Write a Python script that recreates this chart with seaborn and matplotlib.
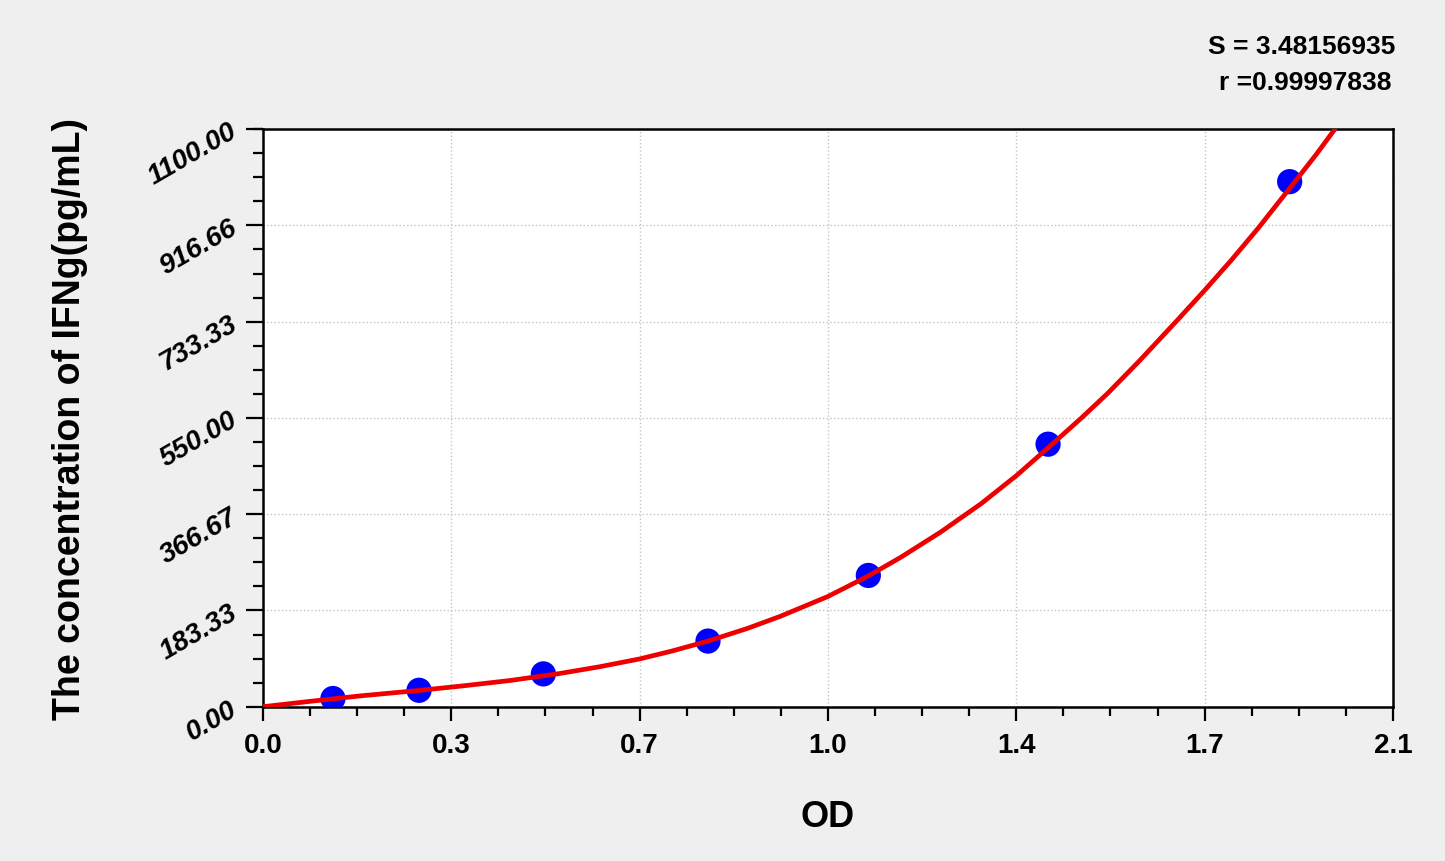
import matplotlib
matplotlib.use("Agg")
import matplotlib.pyplot as plt
from matplotlib.ticker import AutoMinorLocator, FixedLocator
import seaborn as sns

# standard points
od = [0.130, 0.290, 0.521, 0.827, 1.125, 1.459, 1.908]
conc = [15.6, 31.25, 62.5, 125.0, 250.0, 500.0, 1000.0]

# fitted curve
curve_od = [0.0, 0.09, 0.18, 0.29, 0.37, 0.46, 0.55, 0.625, 0.70, 0.76,
            0.827, 0.90, 0.961, 1.05, 1.125, 1.186, 1.26, 1.335, 1.40, 1.46,
            1.52, 1.57, 1.63, 1.70, 1.75, 1.80, 1.85, 1.91, 1.956, 1.992]
curve_conc = [0.0, 10.5, 20.5, 31.0, 39.5, 50.0, 63.0, 76.0, 91.0, 106.0,
              125.0, 149.0, 172.0, 210.0, 249.0, 285.0, 333.0, 387.0, 440.0, 494.0,
              549.0, 597.0, 660.0, 737.0, 793.0, 851.0, 912.0, 990.0, 1050.0, 1100.0]

xtick_vals = [0.0, 0.35, 0.7, 1.05, 1.4, 1.75, 2.1]
xtick_labels = ["0.0", "0.3", "0.7", "1.0", "1.4", "1.7", "2.1"]
ytick_vals = [0.0, 183.33, 366.67, 550.0, 733.33, 916.66, 1100.0]
ytick_labels = ["0.00", "183.33", "366.67", "550.00", "733.33", "916.66", "1100.00"]

s_text = "S = 3.48156935"
r_text = "r =0.99997838"

sns.set_style("ticks")
plt.rcParams["font.family"] = ["Liberation Sans", "DejaVu Sans"]
plt.rcParams["font.weight"] = "bold"
plt.rcParams["text.color"] = "black"
plt.rcParams["axes.labelcolor"] = "black"
plt.rcParams["xtick.color"] = "black"
plt.rcParams["ytick.color"] = "black"

fig = plt.figure(figsize=(14.45, 8.62), dpi=100, facecolor="#efefef")
ax = fig.add_axes([0.182, 0.179, 0.782, 0.670])
ax.set_facecolor("white")

sns.scatterplot(x=od, y=conc, s=330, color="#0000ff", edgecolor="none", zorder=3, ax=ax)
sns.lineplot(x=curve_od, y=curve_conc, sort=False, estimator=None,
             color="#ee0000", lw=3.4, zorder=4, ax=ax)

ax.set_xlim(0, 2.1)
ax.set_ylim(0, 1100)

ax.xaxis.set_major_locator(FixedLocator(xtick_vals))
ax.set_xticklabels(xtick_labels, fontsize=20, fontweight="bold")
ax.yaxis.set_major_locator(FixedLocator(ytick_vals))
ax.set_yticklabels(ytick_labels, fontsize=20, fontweight="bold", style="italic",
                   rotation=30, rotation_mode="anchor", ha="right", va="center")
ax.xaxis.set_minor_locator(AutoMinorLocator(4))
ax.yaxis.set_minor_locator(AutoMinorLocator(4))

ax.tick_params(axis="x", which="major", length=10, width=1.6, pad=8)
ax.tick_params(axis="x", which="minor", length=6.5, width=1.6)
ax.tick_params(axis="y", which="major", length=12, width=1.6, pad=8)
ax.tick_params(axis="y", which="minor", length=7, width=1.6)

ax.grid(True, which="major", color="#c4c4c4", linestyle=":", linewidth=1.0)
ax.set_axisbelow(True)
for sp in ax.spines.values():
    sp.set_visible(True)
    sp.set_color("black")
    sp.set_linewidth(1.8)

ax.set_xlabel("OD", fontsize=26, fontweight="bold", labelpad=30)
ax.set_ylabel("The concentration of IFNg(pg/mL)", fontsize=27, fontweight="bold", labelpad=40)

fig.text(0.9654, 0.9455, s_text, ha="right", va="center", fontsize=19, fontweight="bold")
fig.text(0.9630, 0.9037, r_text, ha="right", va="center", fontsize=19, fontweight="bold")

fig.savefig("out.png", dpi=100, facecolor=fig.get_facecolor())
